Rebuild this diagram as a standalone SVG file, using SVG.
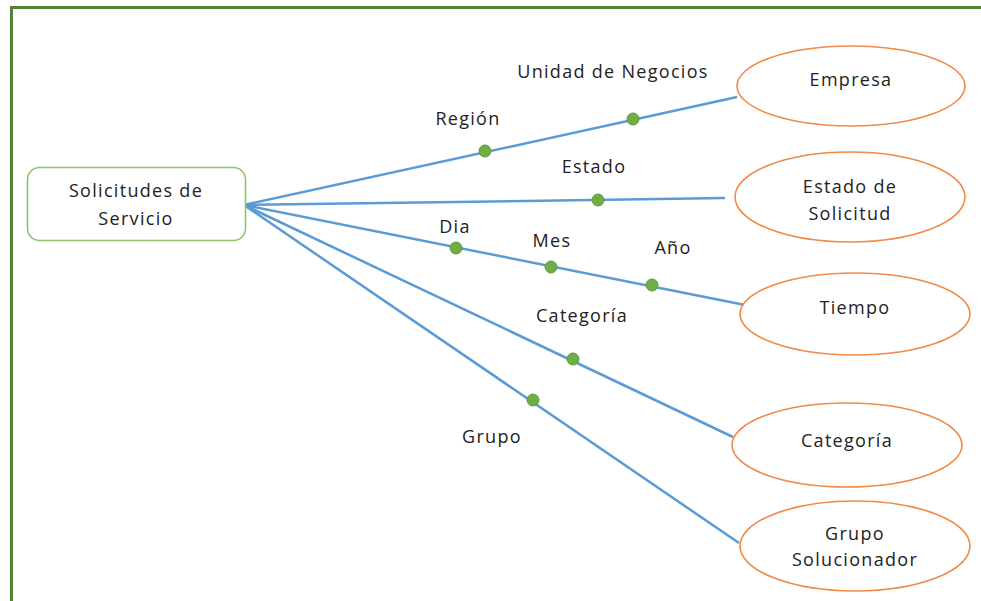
<svg xmlns="http://www.w3.org/2000/svg" width="981" height="601" viewBox="0 0 981 601">
<style>
text{font-family:"Open Sans","Liberation Sans",sans-serif;font-size:18px;letter-spacing:1.3px;fill:#222;text-anchor:middle}
.e{fill:#fff;stroke:#F08A45;stroke-width:1.6}
.c{stroke:#5B9BD5;stroke-width:2.5;fill:none}
.d{fill:#70AD47;stroke:#5E9A3A;stroke-width:1}
</style>
<rect width="981" height="601" fill="#fff"/>
<path d="M11.5 601 V7.5 H981" fill="none" stroke="#548235" stroke-width="3"/>
<g id="connectors">
<line class="c" x1="244" y1="205" x2="737" y2="97"/>
<line class="c" x1="244" y1="205" x2="725" y2="198"/>
<line class="c" x1="244" y1="205" x2="745" y2="305"/>
<line class="c" x1="244" y1="205" x2="733" y2="437"/>
<line class="c" x1="244" y1="205" x2="739" y2="543"/>
<circle class="d" cx="485" cy="151" r="6"/>
<circle class="d" cx="633" cy="119" r="6"/>
<circle class="d" cx="598" cy="200" r="6"/>
<circle class="d" cx="456" cy="248" r="6"/>
<circle class="d" cx="551" cy="267" r="6"/>
<circle class="d" cx="652" cy="285" r="6"/>
<circle class="d" cx="573" cy="359" r="6"/>
<circle class="d" cx="533" cy="400" r="6"/>
<text x="613" y="78">Unidad de Negocios</text>
<text x="468" y="125">Región</text>
<text x="594" y="173">Estado</text>
<text x="455" y="233">Dia</text>
<text x="552" y="247">Mes</text>
<text x="673" y="254">Año</text>
<text x="582" y="322">Categoría</text>
<text x="492" y="443">Grupo</text>
</g>
<g id="solicitudes">
<rect x="27.5" y="167.5" width="218" height="73" rx="12" fill="#fff" stroke="#8CC46A" stroke-width="1.6"/>
<text x="136" y="197">Solicitudes de</text>
<text x="136" y="225">Servicio</text>
</g>
<g id="empresa">
<ellipse class="e" cx="851" cy="86" rx="114" ry="40"/>
<text x="851" y="86">Empresa</text>
</g>
<g id="estado">
<ellipse class="e" cx="850" cy="197" rx="115" ry="45"/>
<text x="850" y="193">Estado de</text>
<text x="850" y="220">Solicitud</text>
</g>
<g id="tiempo">
<ellipse class="e" cx="855" cy="314" rx="115" ry="41"/>
<text x="855" y="314">Tiempo</text>
</g>
<g id="categoria">
<ellipse class="e" cx="847" cy="445" rx="115" ry="42"/>
<text x="847" y="447">Categoría</text>
</g>
<g id="grupo">
<ellipse class="e" cx="855" cy="546" rx="115" ry="45"/>
<text x="855" y="540">Grupo</text>
<text x="855" y="566">Solucionador</text>
</g>
</svg>
